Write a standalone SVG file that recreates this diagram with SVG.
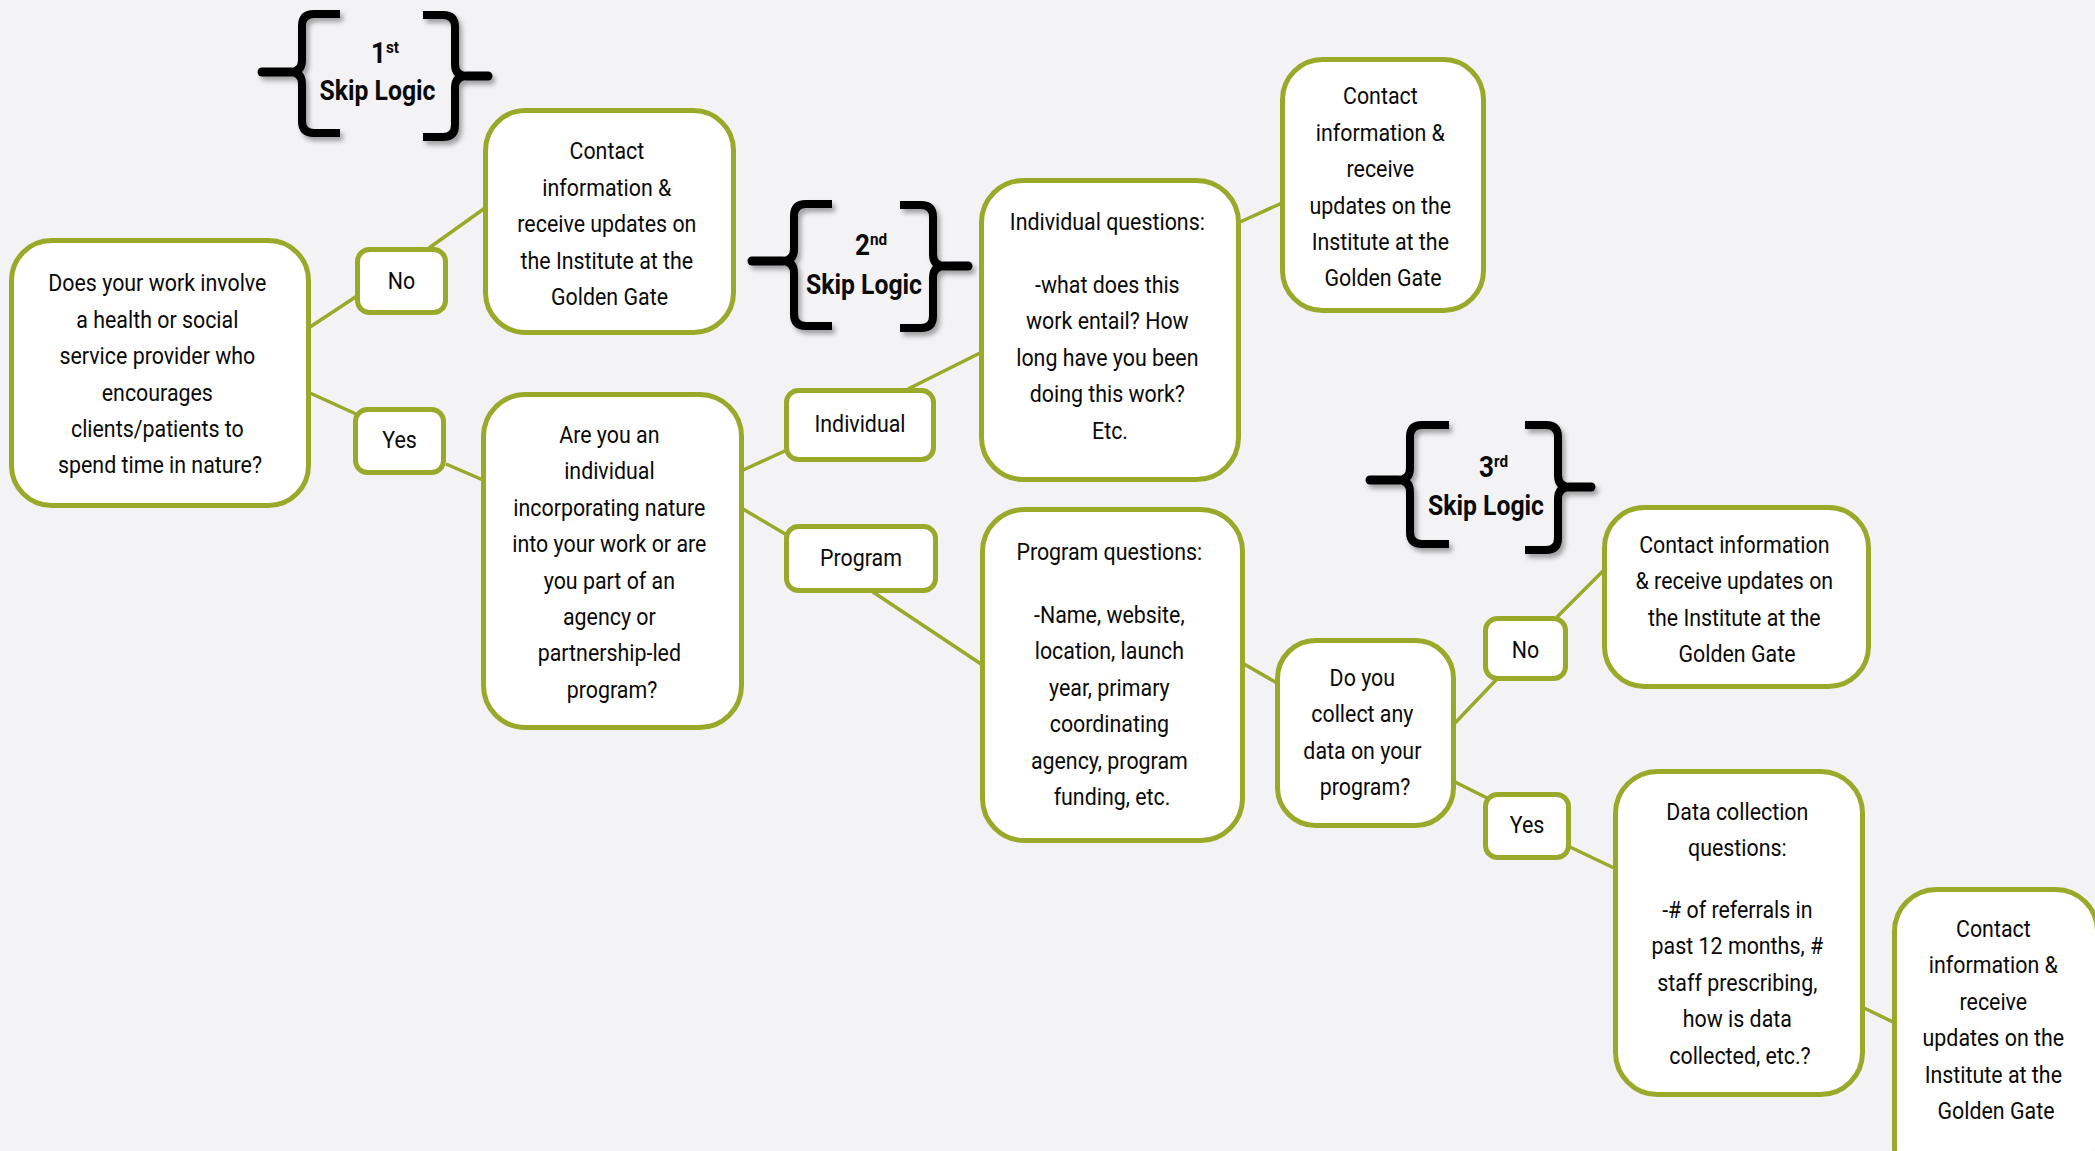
<svg xmlns="http://www.w3.org/2000/svg" width="2095" height="1151" viewBox="0 0 2095 1151">
<defs>
<filter id="sh" x="-20%" y="-20%" width="150%" height="150%">
<feDropShadow dx="3" dy="4" stdDeviation="2.5" flood-color="#000" flood-opacity="0.35"/>
</filter>
<style>
.box{fill:#ffffff;stroke:#99aa2a;stroke-width:5}
.ln{stroke:#99aa2a;stroke-width:3.5;fill:none}
.t{font-family:Roboto,"Liberation Sans",sans-serif;font-size:23.5px;fill:#0a0a0a;text-anchor:middle}
.br{fill:none;stroke:#000;stroke-width:8;stroke-linejoin:round}
.tip{fill:none;stroke:#000;stroke-width:9;stroke-linecap:round}
.sk{font-family:Roboto,"Liberation Sans",sans-serif;font-weight:bold;font-size:27.5px;fill:#0a0a0a;text-anchor:middle}
.num{font-family:Roboto,"Liberation Sans",sans-serif;font-weight:bold;font-size:29px;fill:#0a0a0a}
.sup{font-size:17px}
</style>
</defs>
<rect x="0" y="0" width="2095" height="1151" fill="#f3f2f5"/>

<g id="connectors">
<line class="ln" x1="310" y1="327" x2="357" y2="296"/>
<line class="ln" x1="429" y1="248" x2="485" y2="208"/>
<line class="ln" x1="310" y1="393" x2="356" y2="414"/>
<line class="ln" x1="446" y1="464" x2="483" y2="480"/>
<line class="ln" x1="743" y1="470" x2="787" y2="450"/>
<line class="ln" x1="908" y1="389" x2="980" y2="353"/>
<line class="ln" x1="743" y1="509" x2="787" y2="535"/>
<line class="ln" x1="873" y1="592" x2="981" y2="664"/>
<line class="ln" x1="1240" y1="222" x2="1282" y2="203"/>
<line class="ln" x1="1244" y1="664" x2="1277" y2="683"/>
<line class="ln" x1="1455" y1="723" x2="1496" y2="680"/>
<line class="ln" x1="1557" y1="617" x2="1604" y2="570"/>
<line class="ln" x1="1455" y1="782" x2="1487" y2="798"/>
<line class="ln" x1="1570" y1="847" x2="1616" y2="869"/>
<line class="ln" x1="1864" y1="1008" x2="1895" y2="1023"/>
</g>

<g id="skip1" filter="url(#sh)">
<path class="br" d="M340,14 L314,14 Q302,14 302,26 L302,60 Q302,72 290,72 M290,72 Q302,72 302,84 L302,121 Q302,133 314,133 L340,133"/>
<path class="tip" d="M290,72 L262,72"/>
<path class="br" d="M423,15 L443,15 Q455,15 455,27 L455,64 Q455,76 467,76 M467,76 Q455,76 455,88 L455,125 Q455,137 443,137 L423,137"/>
<path class="tip" d="M467,76 L488,76"/>
</g>
<g id="skip1-label">
<text class="num" transform="translate(371 0) scale(0.9 1)" x="0" y="63">1<tspan class="sup" dy="-10">st</tspan></text>
<text class="sk" transform="translate(377.5 0) scale(0.9 1)" x="0" y="100">Skip Logic</text>
</g>

<g id="skip2" filter="url(#sh)">
<path class="br" d="M832,204 L806,204 Q794,204 794,216 L794,249 Q794,261 782,261 M782,261 Q794,261 794,273 L794,314 Q794,326 806,326 L832,326"/>
<path class="tip" d="M782,261 L752,261"/>
<path class="br" d="M900,205 L921,205 Q933,205 933,217 L933,254 Q933,266 945,266 M945,266 Q933,266 933,278 L933,316 Q933,328 921,328 L900,328"/>
<path class="tip" d="M945,266 L968,266"/>
</g>
<g id="skip2-label">
<text class="num" transform="translate(855 0) scale(0.9 1)" x="0" y="255">2<tspan class="sup" dy="-10">nd</tspan></text>
<text class="sk" transform="translate(864 0) scale(0.9 1)" x="0" y="294">Skip Logic</text>
</g>

<g id="skip3" filter="url(#sh)">
<path class="br" d="M1449,425 L1422,425 Q1410,425 1410,437 L1410,468 Q1410,480 1398,480 M1398,480 Q1410,480 1410,492 L1410,532 Q1410,544 1422,544 L1449,544"/>
<path class="tip" d="M1398,480 L1370,480"/>
<path class="br" d="M1525,425 L1546,425 Q1558,425 1558,437 L1558,475 Q1558,487 1570,487 M1570,487 Q1558,487 1558,499 L1558,538 Q1558,550 1546,550 L1525,550"/>
<path class="tip" d="M1570,487 L1591,487"/>
</g>
<g id="skip3-label">
<text class="num" transform="translate(1479 0) scale(0.9 1)" x="0" y="477">3<tspan class="sup" dy="-10">rd</tspan></text>
<text class="sk" transform="translate(1486 0) scale(0.9 1)" x="0" y="515">Skip Logic</text>
</g>

<g id="q1">
<rect class="box" x="11.5" y="240.5" width="297" height="265" rx="40"/>
<text class="t" transform="translate(160 0) scale(0.91 1)">
<tspan x="0" y="291.5">Does your work involve</tspan>
<tspan x="0" y="327.9">a health or social</tspan>
<tspan x="0" y="364.3">service provider who</tspan>
<tspan x="0" y="400.7">encourages</tspan>
<tspan x="0" y="437.1">clients/patients to</tspan>
<tspan x="0" y="473.5">spend time in nature?</tspan>
</text>
</g>

<g id="no1">
<rect class="box" x="357.5" y="249.5" width="88" height="63" rx="12"/>
<text class="t" transform="translate(401.5 0) scale(0.91 1)"><tspan x="0" y="289">No</tspan></text>
</g>

<g id="yes1">
<rect class="box" x="355.5" y="409.5" width="88" height="63" rx="12"/>
<text class="t" transform="translate(399.5 0) scale(0.91 1)"><tspan x="0" y="448">Yes</tspan></text>
</g>

<g id="c1">
<rect class="box" x="485.5" y="110.5" width="248" height="222" rx="40"/>
<text class="t" transform="translate(609.5 0) scale(0.91 1)">
<tspan x="0" y="159.5">Contact</tspan>
<tspan x="0" y="195.9">information &amp;</tspan>
<tspan x="0" y="232.3">receive updates on</tspan>
<tspan x="0" y="268.7">the Institute at the</tspan>
<tspan x="0" y="305.1">Golden Gate</tspan>
</text>
</g>

<g id="q2">
<rect class="box" x="483.5" y="394.5" width="258" height="333" rx="42"/>
<text class="t" transform="translate(612 0) scale(0.91 1)">
<tspan x="0" y="443">Are you an</tspan>
<tspan x="0" y="479.4">individual</tspan>
<tspan x="0" y="515.8">incorporating nature</tspan>
<tspan x="0" y="552.2">into your work or are</tspan>
<tspan x="0" y="588.6">you part of an</tspan>
<tspan x="0" y="625">agency or</tspan>
<tspan x="0" y="661.4">partnership-led</tspan>
<tspan x="0" y="697.8">program?</tspan>
</text>
</g>

<g id="individual">
<rect class="box" x="786.5" y="390.5" width="147" height="69" rx="12"/>
<text class="t" transform="translate(860 0) scale(0.91 1)"><tspan x="0" y="432">Individual</tspan></text>
</g>

<g id="program">
<rect class="box" x="786.5" y="526.5" width="149" height="64" rx="12"/>
<text class="t" transform="translate(861 0) scale(0.91 1)"><tspan x="0" y="566">Program</tspan></text>
</g>

<g id="indq">
<rect class="box" x="981.5" y="180.5" width="257" height="299" rx="42"/>
<text class="t" transform="translate(1110 0) scale(0.91 1)">
<tspan x="0" y="230">Individual questions:</tspan>
<tspan x="0" y="293">-what does this</tspan>
<tspan x="0" y="329.4">work entail? How</tspan>
<tspan x="0" y="365.8">long have you been</tspan>
<tspan x="0" y="402.2">doing this work?</tspan>
<tspan x="0" y="438.6">Etc.</tspan>
</text>
</g>

<g id="c2">
<rect class="box" x="1282.5" y="59.5" width="201" height="251" rx="40"/>
<text class="t" transform="translate(1383 0) scale(0.91 1)">
<tspan x="0" y="104.5">Contact</tspan>
<tspan x="0" y="140.9">information &amp;</tspan>
<tspan x="0" y="177.3">receive</tspan>
<tspan x="0" y="213.7">updates on the</tspan>
<tspan x="0" y="250.1">Institute at the</tspan>
<tspan x="0" y="286.5">Golden Gate</tspan>
</text>
</g>

<g id="progq">
<rect class="box" x="982.5" y="509.5" width="260" height="331" rx="42"/>
<text class="t" transform="translate(1112 0) scale(0.91 1)">
<tspan x="0" y="560">Program questions:</tspan>
<tspan x="0" y="623">-Name, website,</tspan>
<tspan x="0" y="659.4">location, launch</tspan>
<tspan x="0" y="695.8">year, primary</tspan>
<tspan x="0" y="732.2">coordinating</tspan>
<tspan x="0" y="768.6">agency, program</tspan>
<tspan x="0" y="805">funding, etc.</tspan>
</text>
</g>

<g id="q3">
<rect class="box" x="1277.5" y="640.5" width="176" height="185" rx="38"/>
<text class="t" transform="translate(1365 0) scale(0.91 1)">
<tspan x="0" y="686">Do you</tspan>
<tspan x="0" y="722.4">collect any</tspan>
<tspan x="0" y="758.8">data on your</tspan>
<tspan x="0" y="795.2">program?</tspan>
</text>
</g>

<g id="no3">
<rect class="box" x="1485.5" y="618.5" width="80" height="60" rx="12"/>
<text class="t" transform="translate(1525.5 0) scale(0.91 1)"><tspan x="0" y="658">No</tspan></text>
</g>

<g id="yes3">
<rect class="box" x="1485.5" y="794.5" width="83" height="63" rx="12"/>
<text class="t" transform="translate(1527 0) scale(0.91 1)"><tspan x="0" y="833">Yes</tspan></text>
</g>

<g id="c3">
<rect class="box" x="1604.5" y="507.5" width="264" height="179" rx="40"/>
<text class="t" transform="translate(1737 0) scale(0.91 1)">
<tspan x="0" y="553">Contact information</tspan>
<tspan x="0" y="589.4">&amp; receive updates on</tspan>
<tspan x="0" y="625.8">the Institute at the</tspan>
<tspan x="0" y="662.2">Golden Gate</tspan>
</text>
</g>

<g id="dataq">
<rect class="box" x="1615.5" y="771.5" width="247" height="323" rx="42"/>
<text class="t" transform="translate(1740 0) scale(0.91 1)">
<tspan x="0" y="820">Data collection</tspan>
<tspan x="0" y="856.4">questions:</tspan>
<tspan x="0" y="918">-# of referrals in</tspan>
<tspan x="0" y="954.4">past 12 months, #</tspan>
<tspan x="0" y="990.8">staff prescribing,</tspan>
<tspan x="0" y="1027.2">how is data</tspan>
<tspan x="0" y="1063.6">collected, etc.?</tspan>
</text>
</g>

<g id="c4">
<rect class="box" x="1894.5" y="889.5" width="203" height="300" rx="42"/>
<text class="t" transform="translate(1996 0) scale(0.91 1)">
<tspan x="0" y="937">Contact</tspan>
<tspan x="0" y="973.4">information &amp;</tspan>
<tspan x="0" y="1009.8">receive</tspan>
<tspan x="0" y="1046.2">updates on the</tspan>
<tspan x="0" y="1082.6">Institute at the</tspan>
<tspan x="0" y="1119">Golden Gate</tspan>
</text>
</g>
</svg>
